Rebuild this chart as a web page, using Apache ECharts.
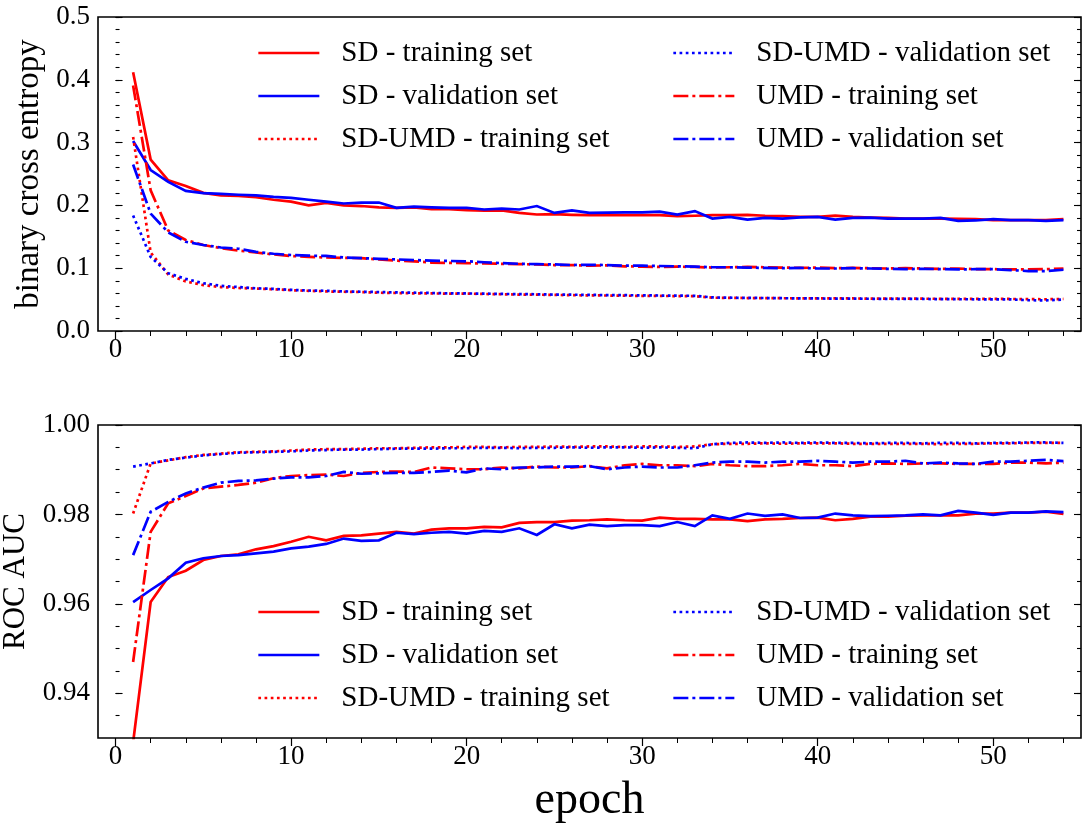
<!DOCTYPE html>
<html><head><meta charset="utf-8">
<script src="https://cdn.jsdelivr.net/npm/echarts@6/dist/echarts.min.js"></script>
<style>html,body{margin:0;padding:0;background:#fff}#c{width:1089px;height:826px}</style>
</head><body><div id="c"></div>
<script>
// ---------- data ----------
const epochs = [1,2,3,4,5,6,7,8,9,10,11,12,13,14,15,16,17,18,19,20,21,22,23,24,25,26,27,28,29,30,31,32,33,34,35,36,37,38,39,40,41,42,43,44,45,46,47,48,49,50,51,52,53,54];
const seriesNames = ['SD - training set','SD - validation set','SD-UMD - training set','SD-UMD - validation set','UMD - training set','UMD - validation set'];

// binary cross entropy (top panel)
const bceSDTrain = [0.412,0.273,0.240,0.231,0.220,0.216,0.215,0.213,0.209,0.206,0.200,0.204,0.200,0.199,0.197,0.196,0.197,0.194,0.194,0.1925,0.1915,0.192,0.188,0.1855,0.186,0.185,0.1845,0.1845,0.1845,0.1845,0.1845,0.183,0.1835,0.1845,0.1845,0.185,0.1835,0.183,0.1817,0.1817,0.1838,0.1817,0.1806,0.180,0.179,0.179,0.179,0.1785,0.178,0.1765,0.1765,0.1765,0.1765,0.178];
const bceSDVal = [0.3026,0.2563,0.2375,0.223,0.2195,0.2185,0.217,0.216,0.2135,0.212,0.209,0.206,0.203,0.2045,0.2045,0.196,0.198,0.197,0.196,0.196,0.1935,0.195,0.1935,0.199,0.188,0.192,0.188,0.1885,0.189,0.189,0.190,0.1855,0.191,0.179,0.1817,0.1775,0.180,0.179,0.181,0.1817,0.1775,0.180,0.1805,0.179,0.179,0.179,0.180,0.1755,0.176,0.178,0.1765,0.1765,0.1755,0.1765];
const bceSDUMDTrain = [0.309,0.125,0.090,0.079,0.073,0.070,0.0685,0.0675,0.0665,0.065,0.064,0.063,0.0625,0.062,0.061,0.0605,0.060,0.0598,0.0596,0.0595,0.059,0.0585,0.058,0.0578,0.0575,0.057,0.0568,0.0565,0.0562,0.056,0.0558,0.0556,0.0555,0.053,0.0528,0.0525,0.0525,0.0522,0.052,0.052,0.0518,0.0518,0.0516,0.0515,0.0515,0.0514,0.0513,0.0512,0.0512,0.051,0.051,0.0508,0.0505,0.051];
const bceSDUMDVal = [0.184,0.118,0.092,0.083,0.076,0.072,0.070,0.068,0.067,0.0655,0.0645,0.064,0.063,0.0625,0.062,0.0615,0.061,0.0605,0.060,0.0598,0.0595,0.059,0.0588,0.0585,0.058,0.0578,0.0575,0.0572,0.057,0.0568,0.0565,0.0563,0.056,0.0535,0.053,0.0528,0.0525,0.0522,0.052,0.0518,0.0516,0.0515,0.0513,0.0512,0.051,0.051,0.0508,0.0506,0.0505,0.0505,0.0503,0.049,0.0488,0.050];
const bceUMDTrain = [0.391,0.224,0.160,0.145,0.137,0.132,0.128,0.125,0.122,0.1195,0.118,0.117,0.1165,0.116,0.114,0.112,0.111,0.109,0.1085,0.108,0.1075,0.107,0.1065,0.106,0.105,0.105,0.104,0.1045,0.103,0.1025,0.102,0.1025,0.102,0.101,0.1015,0.102,0.1015,0.101,0.1005,0.101,0.100,0.1005,0.100,0.0995,0.100,0.0995,0.099,0.0995,0.0985,0.0985,0.098,0.098,0.0985,0.0995];
const bceUMDVal = [0.265,0.187,0.157,0.142,0.137,0.133,0.131,0.126,0.123,0.121,0.120,0.1195,0.117,0.116,0.115,0.114,0.113,0.112,0.1115,0.111,0.1095,0.108,0.107,0.1065,0.106,0.105,0.1055,0.105,0.104,0.104,0.1035,0.103,0.1025,0.1015,0.1015,0.101,0.1005,0.100,0.1005,0.0995,0.0995,0.100,0.0995,0.099,0.0985,0.099,0.0985,0.098,0.0985,0.0985,0.097,0.0955,0.0955,0.0975];

// ROC AUC (bottom panel)
const aucSDTrain = [0.929,0.9604,0.966,0.9674,0.9698,0.9707,0.9711,0.9722,0.9729,0.9739,0.9750,0.9742,0.9752,0.9753,0.9757,0.9761,0.9757,0.9766,0.9769,0.9769,0.9772,0.9771,0.9781,0.9783,0.9783,0.9786,0.9787,0.9789,0.9787,0.9786,0.9793,0.979,0.979,0.9789,0.9789,0.9785,0.9789,0.979,0.9792,0.9793,0.9787,0.979,0.9795,0.9795,0.9797,0.9798,0.9798,0.9798,0.9802,0.9802,0.9804,0.9804,0.9806,0.9801];
const aucSDVal = [0.9604,0.9631,0.9657,0.9692,0.9702,0.9707,0.9709,0.9713,0.9717,0.9724,0.9728,0.9734,0.9746,0.9741,0.9742,0.9759,0.9756,0.9759,0.9761,0.9757,0.9763,0.9761,0.9769,0.9754,0.9778,0.9769,0.9777,0.9774,0.9776,0.9776,0.9774,0.9783,0.9774,0.9798,0.979,0.9802,0.9797,0.980,0.9792,0.9793,0.9802,0.9798,0.9796,0.9797,0.9798,0.980,0.9798,0.9808,0.9804,0.9799,0.9804,0.9804,0.9807,0.9805];
const aucSDUMDTrain = [0.9802,0.9914,0.9921,0.9928,0.9933,0.9936,0.9939,0.9940,0.9941,0.9943,0.9945,0.9946,0.9946,0.9947,0.9948,0.9948,0.9949,0.9950,0.9950,0.9951,0.9951,0.9950,0.9951,0.9951,0.9952,0.9951,0.9952,0.9952,0.9951,0.9952,0.9952,0.9951,0.9952,0.9957,0.9958,0.9958,0.9959,0.9958,0.9959,0.9959,0.9959,0.9958,0.9958,0.9958,0.9958,0.9958,0.9957,0.9958,0.9958,0.9959,0.9959,0.9960,0.9960,0.9960];
const aucSDUMDVal = [0.9907,0.9914,0.9922,0.9927,0.9932,0.9935,0.9938,0.9939,0.9940,0.9941,0.9943,0.9944,0.9945,0.9945,0.9946,0.9947,0.9947,0.9947,0.9948,0.9948,0.9949,0.9949,0.9948,0.9949,0.9949,0.9950,0.9949,0.9950,0.9950,0.9949,0.9950,0.9949,0.9948,0.9957,0.9960,0.9961,0.9960,0.9961,0.9960,0.9961,0.9960,0.9960,0.9959,0.9960,0.9960,0.9959,0.9960,0.9960,0.9959,0.9960,0.9960,0.9961,0.9961,0.9960];
const aucUMDTrain = [0.947,0.9761,0.9825,0.9841,0.9858,0.9862,0.9866,0.9871,0.9881,0.9886,0.9888,0.9889,0.9886,0.9893,0.9895,0.9896,0.9895,0.9905,0.9903,0.9901,0.9901,0.9905,0.9903,0.9907,0.9905,0.9905,0.9908,0.9903,0.9910,0.9913,0.9910,0.9910,0.9908,0.9913,0.9910,0.9908,0.9908,0.9910,0.9913,0.9910,0.9910,0.9908,0.9913,0.9914,0.9913,0.9914,0.9914,0.9913,0.9913,0.9913,0.9916,0.9916,0.9914,0.9916];
const aucUMDVal = [0.9709,0.9806,0.9828,0.9847,0.9860,0.9871,0.9875,0.9876,0.9880,0.9883,0.9883,0.9886,0.9895,0.9891,0.9892,0.9893,0.9893,0.9895,0.9898,0.9894,0.9903,0.9901,0.9905,0.9905,0.9907,0.9907,0.9908,0.9901,0.9905,0.9907,0.9905,0.9905,0.9910,0.9916,0.9918,0.9918,0.9916,0.9918,0.9918,0.9920,0.9918,0.9916,0.9918,0.9918,0.9920,0.9914,0.9916,0.9914,0.9913,0.9918,0.9918,0.9920,0.9922,0.9919];

// tick labels / tick positions
const xMajorTicks = [0,10,20,30,40,50];
const xMinorTicks = [0,2,4,6,8,10,12,14,16,18,20,22,24,26,28,30,32,34,36,38,40,42,44,46,48,50,52,54];
const bceMajorTicks = [0,0.1,0.2,0.3,0.4,0.5];
const bceMinorTicks = [0,0.02,0.04,0.06,0.08,0.1,0.12,0.14,0.16,0.18,0.2,0.22,0.24,0.26,0.28,0.3,0.32,0.34,0.36,0.38,0.4,0.42,0.44,0.46,0.48,0.5];
const aucMajorTicks = [0.94,0.96,0.98,1.00];
const aucMinorTicks = [0.935,0.94,0.945,0.95,0.955,0.96,0.965,0.97,0.975,0.98,0.985,0.99,0.995,1.0];

// ---------- styling ----------
const FONT = 'Liberation Serif';
const RED = '#ff0000', BLUE = '#0000ff';
const LW = 2.7;
const styles = [
  {color: RED,  type: 'solid'},
  {color: BLUE, type: 'solid'},
  {color: RED,  type: [2.7, 3.5]},
  {color: BLUE, type: [2.7, 3.5]},
  {color: RED,  type: [15, 4, 3, 4]},
  {color: BLUE, type: [15, 4, 3, 4]}
];
const topData = [bceSDTrain, bceSDVal, bceSDUMDTrain, bceSDUMDVal, bceUMDTrain, bceUMDVal];
const botData = [aucSDTrain, aucSDVal, aucSDUMDTrain, aucSDUMDVal, aucUMDTrain, aucUMDVal];

const G1 = {left: 98, top: 17, width: 983, height: 314, containLabel: false, outerBoundsMode: 'none'};
const G2 = {left: 98, top: 425, width: 983, height: 313, containLabel: false, outerBoundsMode: 'none'};

function mkSeries(arr, xi, yi) {
  return arr.map((vals, k) => ({
    name: seriesNames[k], type: 'line', xAxisIndex: xi, yAxisIndex: yi,
    data: epochs.map((e, i) => [e, vals[i]]),
    symbol: 'none', clip: true, animation: false,
    lineStyle: {color: styles[k].color, width: LW, type: styles[k].type, cap: 'butt', join: 'miter'},
    itemStyle: {color: styles[k].color},
    z: 2 + k
  }));
}

function xMain(gi, name) {
  const a = {
    gridIndex: gi, type: 'value', min: -1, max: 55,
    axisLine: {show: false}, splitLine: {show: false},
    axisTick: {show: true, inside: false, length: 8, customValues: xMajorTicks, lineStyle: {color: '#000', width: 1.2}},
    axisLabel: {show: true, customValues: xMajorTicks, fontFamily: FONT, fontSize: 27, color: '#000', margin: 5,
      formatter: v => String(Math.round(v))}
  };
  if (name) {
    a.name = name; a.nameLocation = 'middle'; a.nameGap = 40;
    a.nameTextStyle = {fontFamily: FONT, fontSize: 46, color: '#000'};
  }
  return a;
}
function xMinor(gi) {
  return {
    gridIndex: gi, type: 'value', min: -1, max: 55,
    axisLine: {show: false}, splitLine: {show: false}, axisLabel: {show: false},
    axisTick: {show: true, inside: false, length: 5, customValues: xMinorTicks, lineStyle: {color: '#000', width: 1}}
  };
}
function yAx(gi, pos, min, max, ticks, len, labels, fmt, name, nameSize) {
  const a = {
    gridIndex: gi, type: 'value', position: pos, min: min, max: max,
    axisLine: {show: false}, splitLine: {show: false},
    axisTick: {show: true, inside: true, length: len, customValues: ticks, lineStyle: {color: '#000', width: 1.1}},
    axisLabel: labels ? {show: true, customValues: ticks, fontFamily: FONT, fontSize: 27, color: '#000', margin: 8, formatter: fmt}
                      : {show: false}
  };
  if (name) {
    a.name = name; a.nameLocation = 'middle'; a.nameGap = 51; a.nameRotate = 90;
    a.nameTextStyle = {fontFamily: FONT, fontSize: nameSize, color: '#000'};
  }
  return a;
}

function mkLegend(names, left, top) {
  return {
    data: names, orient: 'vertical', left: left, top: top, padding: 0,
    itemWidth: 61, itemHeight: 14, itemGap: 13, selectedMode: false,
    lineStyle: {width: LW},
    itemStyle: {color: 'rgba(0,0,0,0)', borderColor: 'rgba(0,0,0,0)', borderWidth: 0, opacity: 0},
    textStyle: {fontFamily: FONT, fontSize: 29, color: '#000', lineHeight: 30, padding: [0, 0, 0, 17]}
  };
}

const option = {
  backgroundColor: '#fff',
  animation: false,
  grid: [
    Object.assign({show: true, borderColor: '#000', borderWidth: 1.6, backgroundColor: 'transparent', z: 5}, G1),
    Object.assign({show: false}, G1),
    Object.assign({show: true, borderColor: '#000', borderWidth: 1.6, backgroundColor: 'transparent', z: 5}, G2),
    Object.assign({show: false}, G2)
  ],
  xAxis: [xMain(0), xMinor(1), xMain(2, 'epoch'), xMinor(3)],
  yAxis: [
    yAx(0, 'left', 0, 0.5, bceMajorTicks, 7, true, v => v.toFixed(1), 'binary cross entropy', 33),
    yAx(0, 'right', 0, 0.5, bceMajorTicks, 7, false),
    yAx(1, 'left', 0, 0.5, bceMinorTicks, 4, false),
    yAx(1, 'right', 0, 0.5, bceMinorTicks, 4, false),
    yAx(2, 'left', 0.93, 1.0, aucMajorTicks, 7, true, v => v.toFixed(2), 'ROC AUC', 31),
    yAx(2, 'right', 0.93, 1.0, aucMajorTicks, 7, false),
    yAx(3, 'left', 0.93, 1.0, aucMinorTicks, 4, false),
    yAx(3, 'right', 0.93, 1.0, aucMinorTicks, 4, false)
  ],
  legend: [
    mkLegend(seriesNames.slice(0, 3), 257, 38),
    mkLegend(seriesNames.slice(3, 6), 672, 38),
    mkLegend(seriesNames.slice(0, 3), 257, 597),
    mkLegend(seriesNames.slice(3, 6), 672, 597)
  ],
  series: mkSeries(topData, 0, 0).concat(mkSeries(botData, 2, 4))
};

const chart = echarts.init(document.getElementById('c'), null, {renderer: 'canvas'});
chart.setOption(option);
</script>
</body></html>
